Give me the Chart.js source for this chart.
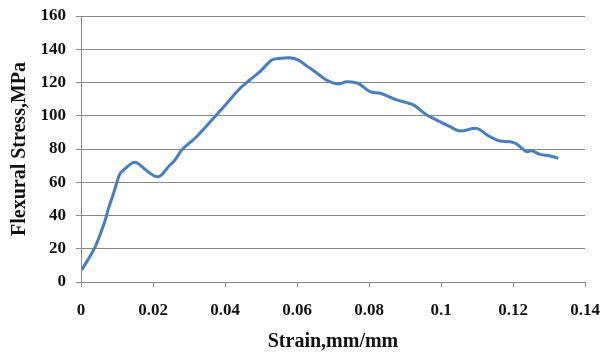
<!DOCTYPE html>
<html lang="en">
<head>
    <meta charset="UTF-8">
    <title>Flexural Stress vs Strain</title>
    <style>
        html, body { margin: 0; padding: 0; background: #fff; }
        .chart_container { width: 600px; height: 354px; }
    </style>
</head>
<body>
    <div class="chart_container">
        <canvas id="my_chart" width="600" height="354" aria-label="Flexural stress vs strain" role="img"></canvas>
    </div>

    <script src="https://cdn.jsdelivr.net/npm/chart.js"></script>
    <script>
    // values
    const strain = [0.0002, 0.0039, 0.0067, 0.0076, 0.009, 0.0108, 0.0122, 0.0141, 0.0155, 0.0169,
        0.0192, 0.021, 0.0224, 0.0243, 0.0261, 0.028, 0.0321, 0.0368, 0.0405, 0.0442,
        0.0469, 0.0497, 0.053, 0.0553, 0.058, 0.0604, 0.0627, 0.065, 0.0682, 0.0715,
        0.0738, 0.077, 0.0803, 0.0831, 0.0877, 0.0923, 0.096, 0.0988, 0.1025, 0.1053,
        0.1099, 0.1131, 0.1164, 0.1192, 0.121, 0.1238, 0.1252, 0.1275, 0.1303, 0.1326];
    const stress = [7.2, 21, 37, 44, 53, 65, 68, 71.4, 71.8, 69.4,
        65.4, 63.3, 64.4, 69.4, 73.4, 79.4, 87.4, 98.5, 107.5, 116.5,
        121.5, 126.5, 133.5, 134.5, 134.9, 133.5, 130, 126.5, 121.5, 119.1,
        120.5, 119.5, 114.5, 113.5, 109.5, 106.5, 100.5, 97.4, 93.4, 90.8,
        92.4, 88, 84.8, 84.4, 83, 78.4, 79, 76.8, 75.8, 74.4];
    const xTicks = [0, 0.02, 0.04, 0.06, 0.08, 0.1, 0.12, 0.14];
    const yTicks = [0, 20, 40, 60, 80, 100, 120, 140, 160];

    const points = strain.map((s, i) => ({ x: s, y: stress[i] }));
    const serif = 'Liberation Serif, Times New Roman, serif';

    const ctx = document.getElementById('my_chart').getContext('2d');
    new Chart(ctx, {
        type: 'scatter',
        data: {
            datasets: [{
                data: points,
                showLine: true,
                borderColor: '#4a7ebb',
                borderWidth: 3,
                pointRadius: 0,
                tension: 0.3,
                fill: false
            }]
        },
        options: {
            responsive: false,
            animation: false,
            layout: { padding: { top: 16, right: 15, bottom: 0, left: 0 } },
            plugins: { legend: { display: false }, tooltip: { enabled: false } },
            scales: {
                x: {
                    type: 'linear',
                    min: xTicks[0],
                    max: xTicks[xTicks.length - 1],
                    afterBuildTicks: axis => { axis.ticks = xTicks.map(v => ({ value: v })); },
                    afterFit: axis => { axis.height = 72; axis.paddingLeft = 0; axis.paddingRight = 0; },
                    grid: { drawOnChartArea: false, drawTicks: true, tickLength: 5, color: '#888' },
                    border: { color: '#888' },
                    ticks: {
                        padding: 13,
                        color: '#111',
                        font: { family: serif, size: 17, weight: 'bold' },
                        callback: v => String(+v.toFixed(2))
                    },
                    title: {
                        display: true,
                        text: 'Strain,mm/mm',
                        color: '#111',
                        font: { family: serif, size: 20, weight: 'bold' },
                        padding: { top: 0, bottom: 0 }
                    }
                },
                y: {
                    min: yTicks[0],
                    max: yTicks[yTicks.length - 1],
                    afterBuildTicks: axis => { axis.ticks = yTicks.map(v => ({ value: v })); },
                    afterFit: axis => { axis.width = 81; axis.paddingTop = 0; axis.paddingBottom = 0; },
                    grid: { color: '#888', tickLength: 5 },
                    border: { color: '#888' },
                    ticks: {
                        padding: 10,
                        color: '#111',
                        font: { family: serif, size: 17, weight: 'bold' }
                    },
                    title: {
                        display: true,
                        text: 'Flexural Stress,MPa',
                        color: '#111',
                        font: { family: serif, size: 20, weight: 'bold' },
                        padding: { top: 8, bottom: 0 }
                    }
                }
            }
        }
    });
    </script>
</body>
</html>
